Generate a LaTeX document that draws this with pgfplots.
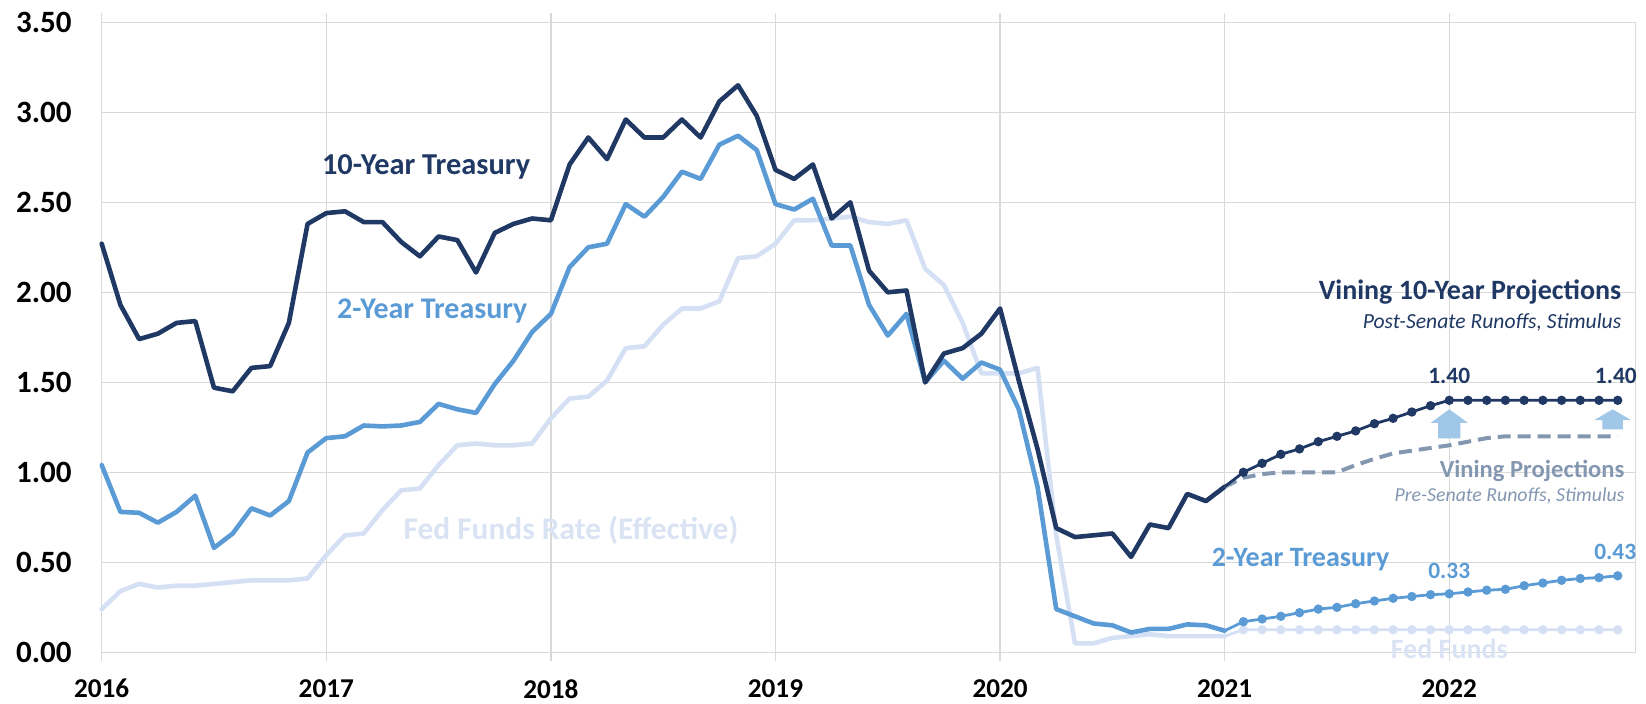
\documentclass[border=0pt]{standalone}
\usepackage{pgfplots}
\pgfplotsset{compat=1.18}
\usepackage{fontspec}
\setmainfont{Carlito}
\definecolor{navy}{RGB}{31,56,100}
\definecolor{twoyr}{RGB}{91,155,213}
\definecolor{fedc}{RGB}{214,224,244}
\definecolor{fedtxt}{RGB}{218,227,243}
\definecolor{projgray}{RGB}{132,151,176}
\definecolor{arrowc}{RGB}{160,198,232}
\definecolor{gridc}{RGB}{217,217,217}

\pgfplotstableread{
k v
0 2.27
1 1.93
2 1.74
3 1.77
4 1.83
5 1.84
6 1.47
7 1.45
8 1.58
9 1.59
10 1.83
11 2.38
12 2.44
13 2.45
14 2.39
15 2.39
16 2.28
17 2.20
18 2.31
19 2.29
20 2.11
21 2.33
22 2.38
23 2.41
24 2.40
25 2.71
26 2.86
27 2.74
28 2.96
29 2.86
30 2.86
31 2.96
32 2.86
33 3.06
34 3.15
35 2.98
36 2.68
37 2.63
38 2.71
39 2.41
40 2.50
41 2.12
42 2.00
43 2.01
44 1.50
45 1.66
46 1.69
47 1.77
48 1.91
49 1.51
50 1.13
51 0.69
52 0.64
53 0.65
54 0.66
55 0.53
56 0.71
57 0.69
58 0.88
59 0.84
60 0.92
}\tenyr

\pgfplotstableread{
k v
0 1.04
1 0.78
2 0.775
3 0.72
4 0.78
5 0.87
6 0.58
7 0.66
8 0.80
9 0.76
10 0.84
11 1.11
12 1.19
13 1.20
14 1.26
15 1.255
16 1.26
17 1.28
18 1.38
19 1.35
20 1.33
21 1.49
22 1.62
23 1.78
24 1.88
25 2.14
26 2.25
27 2.27
28 2.49
29 2.42
30 2.53
31 2.67
32 2.63
33 2.82
34 2.87
35 2.79
36 2.49
37 2.46
38 2.52
39 2.26
40 2.26
41 1.93
42 1.76
43 1.88
44 1.50
45 1.62
46 1.52
47 1.61
48 1.57
49 1.35
50 0.92
51 0.24
52 0.20
53 0.16
54 0.15
55 0.11
56 0.13
57 0.13
58 0.155
59 0.15
60 0.12
}\twoyrtab

\pgfplotstableread{
k v
0 0.24
1 0.34
2 0.38
3 0.36
4 0.37
5 0.37
6 0.38
7 0.39
8 0.40
9 0.40
10 0.40
11 0.41
12 0.54
13 0.65
14 0.66
15 0.79
16 0.90
17 0.91
18 1.04
19 1.15
20 1.16
21 1.15
22 1.15
23 1.16
24 1.30
25 1.41
26 1.42
27 1.51
28 1.69
29 1.70
30 1.82
31 1.91
32 1.91
33 1.95
34 2.19
35 2.20
36 2.27
37 2.40
38 2.40
39 2.41
40 2.42
41 2.39
42 2.38
43 2.40
44 2.13
45 2.04
46 1.83
47 1.55
48 1.55
49 1.55
50 1.58
51 0.65
52 0.05
53 0.05
54 0.08
55 0.09
56 0.10
57 0.09
58 0.09
59 0.09
60 0.09
}\fedtab

\pgfplotstableread{
k ten two fed pre
60 0.92 0.12 0.09 0.92
61 1.00 0.17 0.125 0.97
62 1.05 0.185 0.125 0.99
63 1.10 0.20 0.125 1.00
64 1.13 0.22 0.125 1.00
65 1.17 0.24 0.125 1.00
66 1.20 0.25 0.125 1.00
67 1.23 0.27 0.125 1.04
68 1.27 0.285 0.125 1.075
69 1.30 0.30 0.125 1.105
70 1.335 0.31 0.125 1.12
71 1.37 0.32 0.125 1.135
72 1.40 0.325 0.125 1.15
73 1.40 0.335 0.125 1.17
74 1.40 0.345 0.125 1.19
75 1.40 0.35 0.125 1.20
76 1.40 0.37 0.125 1.20
77 1.40 0.385 0.125 1.20
78 1.40 0.40 0.125 1.20
79 1.40 0.41 0.125 1.20
80 1.40 0.415 0.125 1.20
81 1.40 0.425 0.125 1.20
}\projtab

\begin{document}
\begin{tikzpicture}
\begin{axis}[
  scale only axis, width=766.8bp, height=315bp,
  xmin=0, xmax=81.94, ymin=0, ymax=3.5,
  xtick={0,12,24,36,48,60,72},
  xticklabels={2016,2017,2018,2019,2020,2021,2022},
  ytick={0,0.5,1,1.5,2,2.5,3,3.5},
  xmajorgrids, ymajorgrids,
  grid style={gridc, line width=0.65bp},
  axis line style={gridc, line width=0.65bp},
  xtick align=outside,
  major tick length=4.5bp,
  xtick style={gridc, line width=0.65bp},
  ytick style={draw=none},
  /pgf/number format/assume math mode=true,
  yticklabel style={/pgf/number format/fixed, /pgf/number format/fixed zerofill, /pgf/number format/precision=2,
     font=\fontsize{15.5bp}{17bp}\selectfont\bfseries, anchor=east, inner sep=0pt, xshift=-14.85bp},
  xticklabel style={font=\fontsize{13.6bp}{15bp}\selectfont\bfseries, anchor=north, inner sep=0pt, yshift=-8.85bp},
  clip=false,
]
% arrows
\fill[arrowc] (axis cs:71.41,1.189) -- (axis cs:71.41,1.275) -- (axis cs:71.01,1.275) -- (axis cs:72,1.35) -- (axis cs:72.99,1.275) -- (axis cs:72.59,1.275) -- (axis cs:72.59,1.189) -- cycle;
\fill[arrowc] (axis cs:80.18,1.239) -- (axis cs:80.18,1.29) -- (axis cs:79.75,1.29) -- (axis cs:80.73,1.35) -- (axis cs:81.71,1.29) -- (axis cs:81.28,1.29) -- (axis cs:81.28,1.239) -- cycle;

\addplot[fedc, line width=2.3bp, line join=round, line cap=round] table[x=k,y=v] {\fedtab};
\addplot[twoyr, line width=2.3bp, line join=round, line cap=round] table[x=k,y=v] {\twoyrtab};
\addplot[navy, line width=2.3bp, line join=round, line cap=round] table[x=k,y=v] {\tenyr};

\addplot[projgray, line width=2bp, dash pattern=on 6.5bp off 3.5bp] table[x=k,y=pre] {\projtab};
\addplot[fedc, line width=1.4bp, mark=*, mark size=1.6bp, mark phase=2, mark options={solid, fill=fedc, draw=fedc}] table[x=k,y=fed] {\projtab};
\addplot[twoyr, line width=1.4bp, mark=*, mark size=1.6bp, mark phase=2, mark options={solid, fill=twoyr, draw=twoyr}] table[x=k,y=two] {\projtab};
\addplot[navy, line width=1.4bp, mark=*, mark size=1.6bp, mark phase=2, mark options={solid, fill=navy, draw=navy}] table[x=k,y=ten] {\projtab};

% annotations
\node[anchor=base west, inner sep=0pt, text=navy, font=\fontsize{15.2bp}{17bp}\selectfont\bfseries] at (axis cs:11.75,2.657) {10-Year Treasury};
\node[anchor=base west, inner sep=0pt, text=twoyr, font=\fontsize{15bp}{17bp}\selectfont\bfseries] at (axis cs:12.56,1.856) {2-Year Treasury};
\node[anchor=base west, inner sep=0pt, text=fedtxt, font=\fontsize{15.7bp}{17bp}\selectfont\bfseries] at (axis cs:16.11,0.624) {Fed Funds Rate (Effective)};

\node[anchor=base east, inner sep=0pt, text=navy, font=\fontsize{14bp}{16bp}\selectfont\bfseries] at (axis cs:81.21,1.961) {Vining 10-Year Projections};
\node[anchor=base east, inner sep=0pt, text=navy, font=\fontsize{10.8bp}{12bp}\selectfont\itshape] at (axis cs:81.21,1.80) {Post-Senate Runoffs, Stimulus};
\node[anchor=base, inner sep=0pt, text=navy, font=\fontsize{11.7bp}{13bp}\selectfont\bfseries] at (axis cs:72,1.494) {1.40};
\node[anchor=base, inner sep=0pt, text=navy, font=\fontsize{11.7bp}{13bp}\selectfont\bfseries] at (axis cs:80.9,1.494) {1.40};

\node[anchor=base east, inner sep=0pt, text=projgray, font=\fontsize{12.3bp}{14bp}\selectfont\bfseries] at (axis cs:81.38,0.972) {Vining Projections};
\node[anchor=base east, inner sep=0pt, text=projgray, font=\fontsize{9.9bp}{11bp}\selectfont\itshape] at (axis cs:81.38,0.837) {Pre-Senate Runoffs, Stimulus};

\node[anchor=base west, inner sep=0pt, text=twoyr, font=\fontsize{14bp}{16bp}\selectfont\bfseries] at (axis cs:59.29,0.477) {2-Year Treasury};
\node[anchor=base, inner sep=0pt, text=twoyr, font=\fontsize{11.7bp}{13bp}\selectfont\bfseries] at (axis cs:72,0.41) {0.33};
\node[anchor=base, inner sep=0pt, text=twoyr, font=\fontsize{11.7bp}{13bp}\selectfont\bfseries] at (axis cs:80.87,0.514) {0.43};
\node[anchor=base, inner sep=0pt, text=fedtxt, font=\fontsize{14bp}{16bp}\selectfont\bfseries] at (axis cs:72,-0.037) {Fed Funds};
\end{axis}
\pgfresetboundingbox
\path (-50.85bp,-25.85bp) rectangle (772.15bp,326.15bp);
\end{tikzpicture}
\end{document}
